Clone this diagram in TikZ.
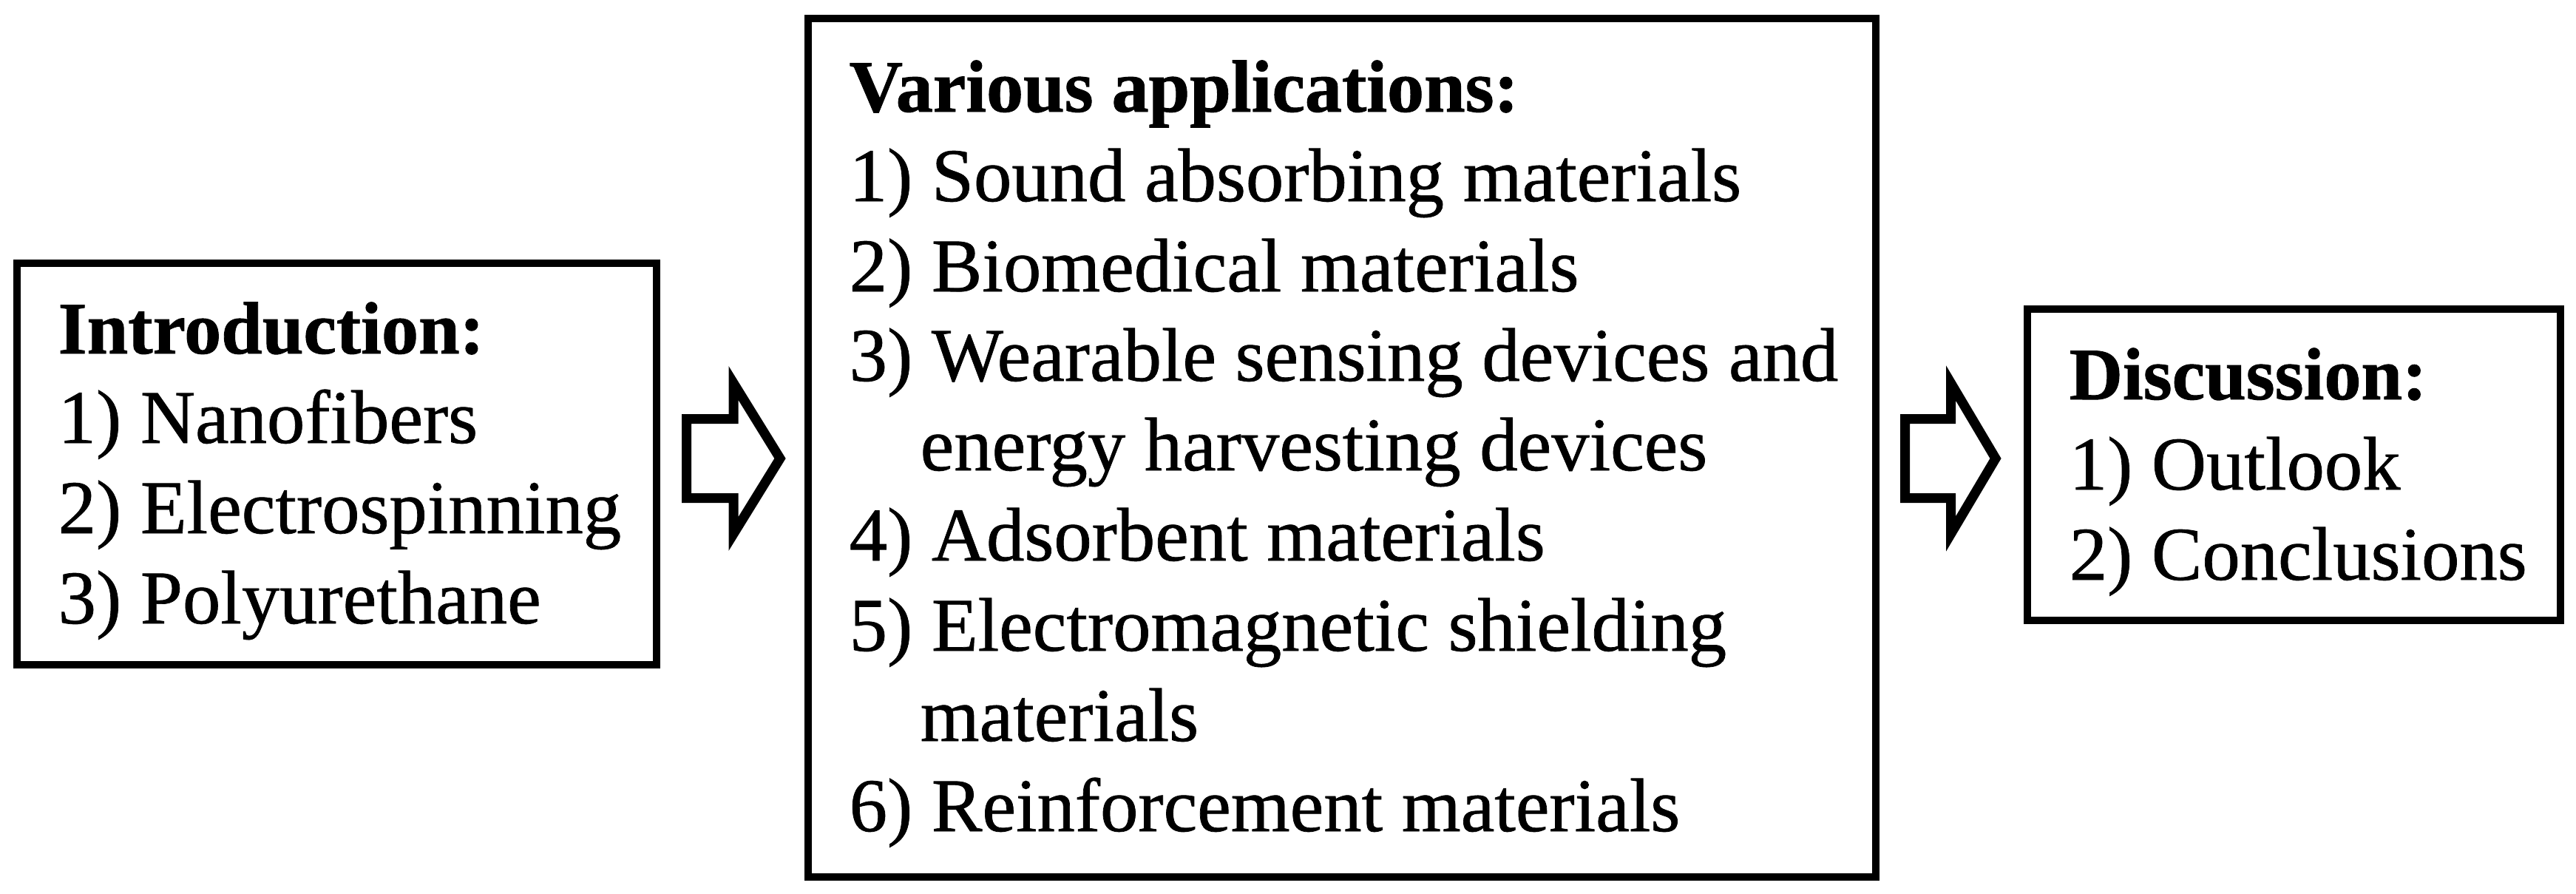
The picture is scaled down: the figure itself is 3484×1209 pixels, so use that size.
\documentclass[tikz,border=0pt]{standalone}
\usepackage{fontspec}
\setmainfont{Liberation Serif}
\newfontfamily\itemfont{Liberation Serif}[FakeBold=0.7]
\newfontfamily\headfont{Liberation Serif Bold}[FakeBold=0.9]
\usetikzlibrary{calc}
\begin{document}
\begin{tikzpicture}[x=0.01cm,y=-0.01cm,
  frame/.style={draw,line width=0.1cm,line join=miter,rectangle,inner sep=0pt},
  headtxt/.style={anchor=base west,inner sep=0pt,font=\fontsize{28.45}{34}\headfont},
  itemtxt/.style={anchor=base west,inner sep=0pt,font=\fontsize{29.2}{34}\itemfont},
  blockarrow/.style={draw,line width=0.13cm,line join=miter,fill=white}]
\useasboundingbox[fill=white] (0,0) rectangle (3484,1209);

% boxes
\node[frame,minimum width=8.65cm,minimum height=5.43cm] (intro) at (455.5,627.5) {};
\node[frame,minimum width=14.44cm,minimum height=11.61cm] (apps) at (1815,605.5) {};
\node[frame,minimum width=7.21cm,minimum height=4.21cm] (disc) at (3102.5,628.5) {};

% left box text
\node[headtxt] (t1) at (78,478) {Introduction:};
\node[itemtxt] (t2) at (78,599) {1) Nanofibers};
\node[itemtxt] (t3) at (78,721) {2) Electrospinning};
\node[itemtxt] (t4) at (78,843) {3) Polyurethane};

% middle box text
\node[headtxt] (m0) at (1148,151) {Various applications:};
\node[itemtxt] (m1) at (1148,272) {1) Sound absorbing materials};
\node[itemtxt] (m2) at (1148,394) {2) Biomedical materials};
\node[itemtxt] (m3) at (1148,515) {3) Wearable sensing devices and};
\node[itemtxt] (m3b) at (1244,636) {energy harvesting devices};
\node[itemtxt] (m4) at (1148,758) {4) Adsorbent materials};
\node[itemtxt] (m5) at (1148,880) {5) Electromagnetic shielding};
\node[itemtxt] (m5b) at (1244,1002) {materials};
\node[itemtxt] (m6) at (1148,1124) {6) Reinforcement materials};

% right box text
\node[headtxt] (d0) at (2798,540) {Discussion:};
\node[itemtxt] (d1) at (2798,662) {1) Outlook};
\node[itemtxt] (d2) at (2798,784) {2) Conclusions};

% block arrows
\coordinate (a1) at (928.5,620);
\coordinate (a2) at (2576.5,620);
\draw[blockarrow] (a1) ++(0,-53.5) -- ++(63.5,0) -- ++(0,-48.5) -- ++(63,102)
  -- ++(-63,102) -- ++(0,-48.5) -- ++(-63.5,0) -- cycle;
\draw[blockarrow] (a2) ++(0,-53.5) -- ++(62,0) -- ++(0,-48.5) -- ++(60.5,102)
  -- ++(-60.5,102) -- ++(0,-48.5) -- ++(-62,0) -- cycle;
\end{tikzpicture}
\end{document}
